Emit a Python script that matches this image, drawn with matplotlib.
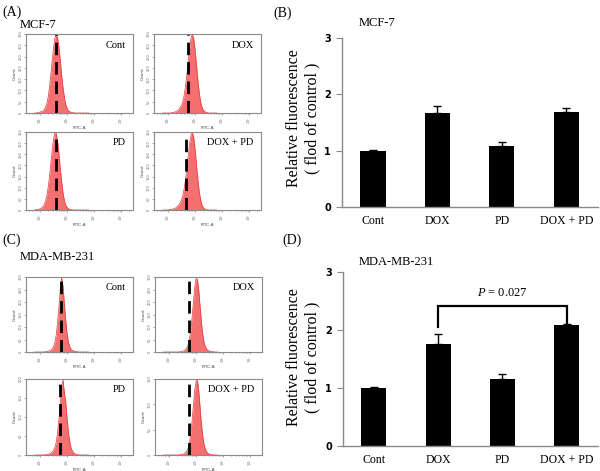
import numpy as np
import matplotlib
matplotlib.use("Agg")
import matplotlib.pyplot as plt

plt.rcParams['mathtext.fontset'] = 'custom'
plt.rcParams['mathtext.rm'] = 'Liberation Serif'
plt.rcParams['mathtext.it'] = 'Liberation Serif:italic'

# ---------------- data ----------------
categories = ['Cont', 'DOX', 'PD', 'DOX + PD']
mcf_mean = [1.00, 1.66, 1.08, 1.69]
mcf_err = [0.01, 0.14, 0.08, 0.06]
mda_mean = [1.00, 1.76, 1.15, 2.09]
mda_err = [0.01, 0.17, 0.09, 0.02]
p_text = '= 0.027'

# flow-cytometry histograms: log10(FITC-A) bin centres and normalised counts
fitc_log = [round(1.8 + 0.05 * i, 2) for i in range(41)]
mcf_cont = [0, 0, 0.004, 0.008, 0.012, 0.018, 0.025, 0.04, 0.07, 0.12,
            0.2, 0.33, 0.49, 0.67, 0.83, 0.95, 1.0, 0.95, 0.83, 0.66,
            0.48, 0.32, 0.2, 0.11, 0.06, 0.03, 0.018, 0.01, 0.006, 0.003,
            0, 0, 0, 0, 0, 0, 0, 0, 0, 0, 0]
mcf_dox = [0, 0, 0, 0, 0, 0, 0, 0.004, 0.008, 0.012,
           0.02, 0.03, 0.045, 0.07, 0.1, 0.15, 0.23, 0.35, 0.5, 0.67,
           0.83, 0.95, 1.0, 0.94, 0.8, 0.62, 0.43, 0.27, 0.15, 0.08,
           0.04, 0.02, 0.01, 0.005, 0, 0, 0, 0, 0, 0, 0]
mcf_pd = [0, 0.003, 0.006, 0.01, 0.016, 0.025, 0.04, 0.065, 0.11, 0.18,
          0.29, 0.43, 0.6, 0.77, 0.91, 0.99, 0.98, 0.88, 0.72, 0.53,
          0.36, 0.22, 0.12, 0.065, 0.035, 0.018, 0.01, 0.005, 0.002, 0,
          0, 0, 0, 0, 0, 0, 0, 0, 0, 0, 0]
mcf_doxpd = [0, 0, 0, 0, 0, 0.003, 0.006, 0.01, 0.015, 0.022,
             0.03, 0.045, 0.065, 0.09, 0.13, 0.19, 0.28, 0.4, 0.55, 0.71,
             0.86, 0.96, 1.0, 0.93, 0.78, 0.59, 0.4, 0.25, 0.14, 0.07,
             0.035, 0.017, 0.008, 0.004, 0, 0, 0, 0, 0, 0, 0]
mda_cont = [0, 0, 0, 0, 0, 0, 0, 0, 0.003, 0.006,
            0.01, 0.016, 0.025, 0.04, 0.07, 0.13, 0.23, 0.4, 0.6, 0.85,
            0.99, 0.88, 0.64, 0.42, 0.25, 0.13, 0.07, 0.035, 0.02, 0.012,
            0.007, 0.004, 0.002, 0, 0, 0, 0, 0, 0, 0, 0]
mda_dox = [0, 0, 0, 0, 0, 0, 0, 0, 0, 0,
           0, 0, 0.003, 0.006, 0.01, 0.017, 0.03, 0.05, 0.09, 0.16,
           0.28, 0.45, 0.66, 0.86, 0.98, 0.97, 0.82, 0.6, 0.39, 0.23,
           0.12, 0.065, 0.035, 0.02, 0.012, 0.007, 0.004, 0.002, 0, 0, 0]
mda_pd = [0, 0, 0, 0, 0, 0, 0, 0, 0.003, 0.006,
          0.01, 0.015, 0.024, 0.038, 0.06, 0.1, 0.17, 0.3, 0.48, 0.7,
          0.9, 0.99, 0.82, 0.7, 0.48, 0.3, 0.17, 0.09, 0.05, 0.028,
          0.015, 0.008, 0.004, 0, 0, 0, 0, 0, 0, 0, 0]
mda_doxpd = [0, 0, 0, 0, 0, 0, 0, 0, 0, 0,
             0, 0, 0.003, 0.006, 0.01, 0.016, 0.028, 0.048, 0.085, 0.15,
             0.27, 0.44, 0.65, 0.85, 0.97, 0.99, 0.84, 0.62, 0.4, 0.24,
             0.13, 0.07, 0.038, 0.02, 0.012, 0.007, 0.004, 0.002, 0, 0, 0]
# reference (dashed) line position, log10 FITC-A
mcf_ref = [2.59, 2.72, 2.60, 2.66]
mda_ref = [2.78, 2.74, 2.74, 2.74]
mcf_hist = [mcf_cont, mcf_dox, mcf_pd, mcf_doxpd]
mda_hist = [mda_cont, mda_dox, mda_pd, mda_doxpd]
mcf_count_max = 350
mda_count_max = [300, 300, 200, 150]

# ---------------- figure ----------------
W, H = 600, 471
fig = plt.figure(figsize=(W / 100, H / 100), dpi=100)
SERIF = 'Liberation Serif'


def add_ax(x0, y0, x1, y1):
    return fig.add_axes([x0 / W, 1 - y1 / H, (x1 - x0) / W, (y1 - y0) / H])


def ftext(x, y, s, **kw):
    kw.setdefault('family', SERIF)
    fig.text(x / W, 1 - y / H, s, **kw)


sup = {2: '10$^2$', 3: '10$^3$', 4: '10$^4$', 5: '10$^5$'}


def hist_panel(box, counts, ref, label, cmax):
    ax = add_ax(*box)
    ax.fill_between(fitc_log, counts, 0, color='#f46f6f', lw=0)
    ax.plot(fitc_log, counts, color='#e23a3a', lw=0.5)
    ax.axvline(ref, color='black', lw=2.0, dashes=(4.5, 2.5))
    ax.set_xlim(1.48, 5.44)
    ax.set_ylim(0, 0.98)
    ax.set_xticks([2, 3, 4, 5])
    ax.set_xticklabels([sup[k] for k in [2, 3, 4, 5]], fontsize=2.5,
                       rotation=90, color='#555555')
    minors = [np.log10(m * 10 ** d) for d in [1, 2, 3, 4, 5]
              for m in range(2, 10) if 1.48 < np.log10(m * 10 ** d) < 5.44]
    ax.set_xticks(minors, minor=True)
    step = 50
    yt = list(range(0, cmax + 1, step))
    ax.set_yticks([v / cmax for v in yt])
    ax.set_yticklabels([str(v) for v in yt], fontsize=2.5, rotation=90,
                       color='#555555', va='center')
    ax.tick_params(axis='both', which='both', length=1.5, width=0.4,
                   pad=1, colors='#666666')
    ax.tick_params(axis='x', which='minor', length=1)
    for s in ax.spines.values():
        s.set_color('#8a8a8a')
        s.set_linewidth(0.8)
    ax.set_xlabel('FITC-A', fontsize=3.2, labelpad=1, color='#444444')
    ax.set_ylabel('Count', fontsize=3.2, labelpad=1, color='#444444')
    ax.text(0.93, 0.86, label, transform=ax.transAxes, ha='right',
            va='center', family=SERIF, fontsize=7.5)
    return ax


# MCF-7 histograms
mcf_boxes = [(26, 34, 133, 113), (154, 34, 261, 113),
             (26, 132, 133, 210), (154, 132, 261, 210)]
for b, c, r, lab in zip(mcf_boxes, mcf_hist, mcf_ref, categories):
    hist_panel(b, c, r, lab, mcf_count_max)

mda_boxes = [(26, 277, 133, 352), (155, 277, 262, 352),
             (26, 379, 133, 455), (155, 379, 262, 455)]
for b, c, r, lab, cm in zip(mda_boxes, mda_hist, mda_ref, categories,
                            mda_count_max):
    hist_panel(b, c, r, lab, cm)

ftext(2, 12, '(A)', fontsize=10, va='center')
ftext(20, 25, 'MCF-7', fontsize=9, va='center')
ftext(2, 240, '(C)', fontsize=10, va='center')
ftext(20, 257, 'MDA-MB-231', fontsize=9, va='center')
ftext(273, 13, '(B)', fontsize=10, va='center')
ftext(282, 240, '(D)', fontsize=10, va='center')


def bar_panel(box, mean, err):
    ax = add_ax(*box)
    x = np.arange(len(categories))
    ax.bar(x, mean, width=0.39, color='black', zorder=2)
    ax.errorbar(x, mean, yerr=[[0] * len(err), err], fmt='none',
                ecolor='black', elinewidth=1, capsize=3, capthick=1,
                zorder=3)
    ax.set_xlim(-0.48, 3.49)
    ax.set_ylim(0, 3)
    ax.set_yticks([0, 1, 2, 3])
    ax.set_yticklabels(['0', '1', '2', '3'], fontsize=7,
                       fontweight='bold', family='DejaVu Sans')
    ax.set_xticks(x)
    ax.set_xticklabels(categories, family=SERIF, fontsize=8.5)
    ax.tick_params(axis='x', length=0, pad=6)
    ax.tick_params(axis='y', length=4, width=0.8, color='#8a8a8a', pad=4)
    for s in ['top', 'right']:
        ax.spines[s].set_visible(False)
    for s in ['left', 'bottom']:
        ax.spines[s].set_color('#8a8a8a')
        ax.spines[s].set_linewidth(1.0)
    return ax


axB = bar_panel((342, 38, 598, 207), mcf_mean, mcf_err)
ftext(359, 23, 'MCF-7', fontsize=9, va='center')
ftext(303, 118, 'Relative fluorescence\n( flod of control )', fontsize=11.5,
      rotation=90, ha='center', va='center', linespacing=1.25)

axD = bar_panel((343, 272, 598, 446), mda_mean, mda_err)
ftext(359, 262, 'MDA-MB-231', fontsize=9, va='center')
ftext(303, 357, 'Relative fluorescence\n( flod of control )', fontsize=11.5,
      rotation=90, ha='center', va='center', linespacing=1.25)

# significance bracket DOX vs DOX + PD
y_top = 2.41
axD.plot([1, 1, 3, 3], [2.05, y_top, y_top, 2.12], color='black', lw=1.6,
         solid_joinstyle='miter', clip_on=False)
axD.text(2, 2.64, '$\\mathit{P}$ ' + p_text, ha='center', va='center',
         family=SERIF, fontsize=9)

fig.savefig('out.png', dpi=100)
